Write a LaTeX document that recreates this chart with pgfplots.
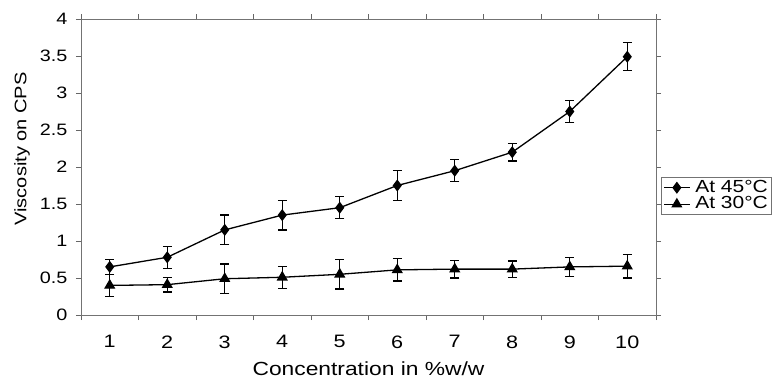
\documentclass[border=0pt]{standalone}
\usepackage{pgfplots}
\pgfplotsset{compat=1.18}
\usepackage{fontspec}
\setmainfont{Liberation Sans}[FakeStretch=1.2]
\begin{document}
\begin{tikzpicture}
\begin{axis}[
  scale only axis,
  width=575pt, height=296pt,
  xmin=0.5, xmax=10.5, ymin=0, ymax=4,
  xtick={0.5,1.5,...,10.5},
  xticklabels={},
  extra x ticks={1,2,3,4,5,6,7,8,9,10},
  extra x tick labels={1,2,3,4,5,6,7,8,9,10},
  extra x tick style={major tick length=0pt},
  ytick={0,0.5,...,4},
  tick align=outside,
  major tick length=5pt,
  tick style={black!60, line width=0.8pt},
  axis line style={black!55, line width=0.9pt},
  /pgf/number format/assume math mode=true,
  yticklabel style={font=\fontsize{16.5}{18}\selectfont, /pgf/number format/fixed, xshift=-5pt},
  xticklabel style={font=\fontsize{18}{20}\selectfont, yshift=-17pt},
  xlabel={Concentration in \%w/w},
  ylabel={Viscosity on CPS},
  xlabel style={font=\fontsize{19}{21}\selectfont, at={(axis description cs:0.5,-0.183)}, anchor=center},
  ylabel style={font=\fontsize{16.7}{19}\selectfont, at={(axis description cs:-0.1026,0.561)}, anchor=center},
  legend style={at={(axis description cs:1.0087,0.466)}, anchor=north west, draw=black!55, line width=0.8pt,
    font=\fontsize{17.5}{19}\selectfont, row sep=0pt, inner sep=2pt,
    nodes={inner sep=1pt, text height=12pt, text depth=2.5pt},
    /tikz/every odd column/.append style={column sep=4pt}},
  legend cell align=left,
  legend image code/.code={\draw[#1, mark repeat=2, mark phase=2] plot coordinates {(0cm,0cm) (0.45cm,0cm) (0.9cm,0cm)};},
]
\addplot[black, line width=1.3pt, mark=diamond*, mark size=5pt, mark options={solid, fill=black},
  error bars/.cd, y dir=both, y explicit,
  error bar style={line width=1.3pt, black},
  error mark options={black, line width=1.3pt, mark size=4.5pt, rotate=90}]
  table[x=x, y=y, y error=e] {
x y e
1 0.65 0.10
2 0.78 0.15
3 1.15 0.20
4 1.35 0.20
5 1.45 0.15
6 1.75 0.20
7 1.95 0.15
8 2.20 0.12
9 2.75 0.15
10 3.49 0.19
};
\addlegendentry{At 45°C}
\addplot[black, line width=1.3pt, mark=triangle*, mark size=5.2pt, mark options={solid, fill=black},
  error bars/.cd, y dir=both, y explicit,
  error bar style={line width=1.3pt, black},
  error mark options={black, line width=1.3pt, mark size=4.5pt, rotate=90}]
  table[x=x, y=y, y error=e] {
x y e
1 0.40 0.15
2 0.41 0.10
3 0.49 0.20
4 0.51 0.15
5 0.55 0.20
6 0.61 0.15
7 0.62 0.12
8 0.62 0.11
9 0.65 0.13
10 0.66 0.16
};
\addlegendentry{At 30°C}
\coordinate (sw) at (rel axis cs:0,0);
\coordinate (ne) at (rel axis cs:1,1);
\end{axis}
\pgfresetboundingbox
\path ([shift={(-81pt,-68pt)}]sw) rectangle ([shift={(117pt,19pt)}]ne);
\end{tikzpicture}
\end{document}
